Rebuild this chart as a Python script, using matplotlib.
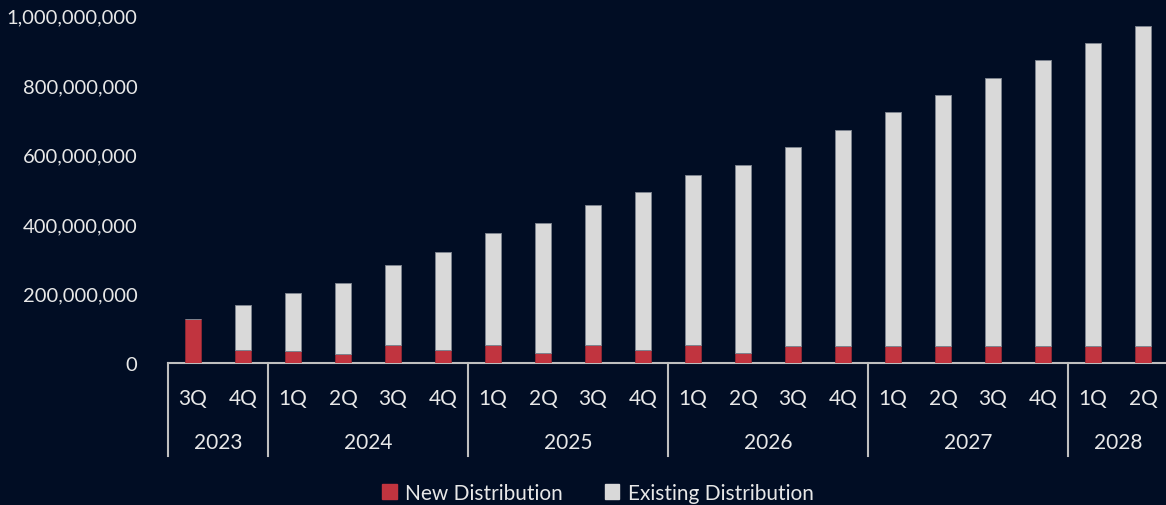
import matplotlib
matplotlib.use("Agg")
import matplotlib.pyplot as plt
import numpy as np
from matplotlib.ticker import FuncFormatter
from matplotlib.patches import Patch

# quarterly distribution, in millions
quarters = ["3Q", "4Q", "1Q", "2Q", "3Q", "4Q", "1Q", "2Q", "3Q", "4Q",
            "1Q", "2Q", "3Q", "4Q", "1Q", "2Q", "3Q", "4Q", "1Q", "2Q"]
years = ["2023", "2024", "2025", "2026", "2027", "2028"]
quarters_per_year = [2, 4, 4, 4, 4, 2]
new_dist = [127, 39, 35, 28, 53, 37, 53, 30, 53, 37,
            53, 29, 50, 50, 50, 50, 50, 50, 50, 50]
existing_dist = [0, 128, 167, 202, 230, 284, 321, 372, 401, 454,
                 489, 541, 572, 621, 671, 721, 771, 821, 870, 920]

bg = "#010d24"
red = "#c1343f"
grey = "#d9d9d9"
txt = "#e8e8e8"
line = "#bfbfbf"

plt.rcParams['font.family'] = ['Lato', 'DejaVu Sans']

new_vals = np.array(new_dist) * 1e6
old_vals = np.array(existing_dist) * 1e6
x = np.arange(len(quarters))

fig = plt.figure(figsize=(11.66, 5.06), dpi=100, facecolor=bg)
ax = fig.add_axes([168 / 1166, 1 - 364.3 / 506, 1000 / 1166, 348 / 506])
ax.set_facecolor(bg)

ax.bar(x, new_vals, width=0.32, color=red, edgecolor="#9b2a33", linewidth=0.5, zorder=3)
ax.bar(x, old_vals, width=0.32, bottom=new_vals, color=grey,
       edgecolor="#7d838e", linewidth=0.7, zorder=3)

ax.set_xlim(-0.5, len(quarters) - 0.5)
ax.set_ylim(0, 1e9)
ax.set_yticks(np.arange(0, 1.0e9 + 1, 2e8))
ax.yaxis.set_major_formatter(FuncFormatter(lambda v, p: f"{int(v):,}"))
ax.tick_params(axis="y", length=0, pad=22, labelsize=14.5, labelcolor=txt)

for s in ["top", "right", "left"]:
    ax.spines[s].set_visible(False)
ax.spines["bottom"].set_color(line)
ax.spines["bottom"].set_linewidth(1.5)

# quarter labels on the first row
ax.set_xticks(x)
ax.set_xticklabels(quarters)
ax.tick_params(axis="x", length=0, pad=18, labelsize=15, labelcolor=txt)

# year labels and group dividers below
trans = ax.get_xaxis_transform()
start = 0
for yr, n in zip(years, quarters_per_year):
    left = start - 0.5
    ax.plot([left, left], [0, -0.266], color=line, lw=1.5, transform=trans, clip_on=False)
    ax.text(start + (n - 1) / 2, -0.227, yr, transform=trans, ha="center", va="center",
            fontsize=15, color=txt)
    start += n

handles = [Patch(color=red, label="New Distribution"),
           Patch(color=grey, label="Existing Distribution")]
fig.legend(handles=handles, loc="center", bbox_to_anchor=(598 / 1166, 1 - 494 / 506),
           ncol=2, frameon=False, fontsize=15, labelcolor=txt, handlelength=0.7,
           handleheight=0.7, handletextpad=0.4, columnspacing=2.0)

fig.savefig("out.png", dpi=100, facecolor=bg)
